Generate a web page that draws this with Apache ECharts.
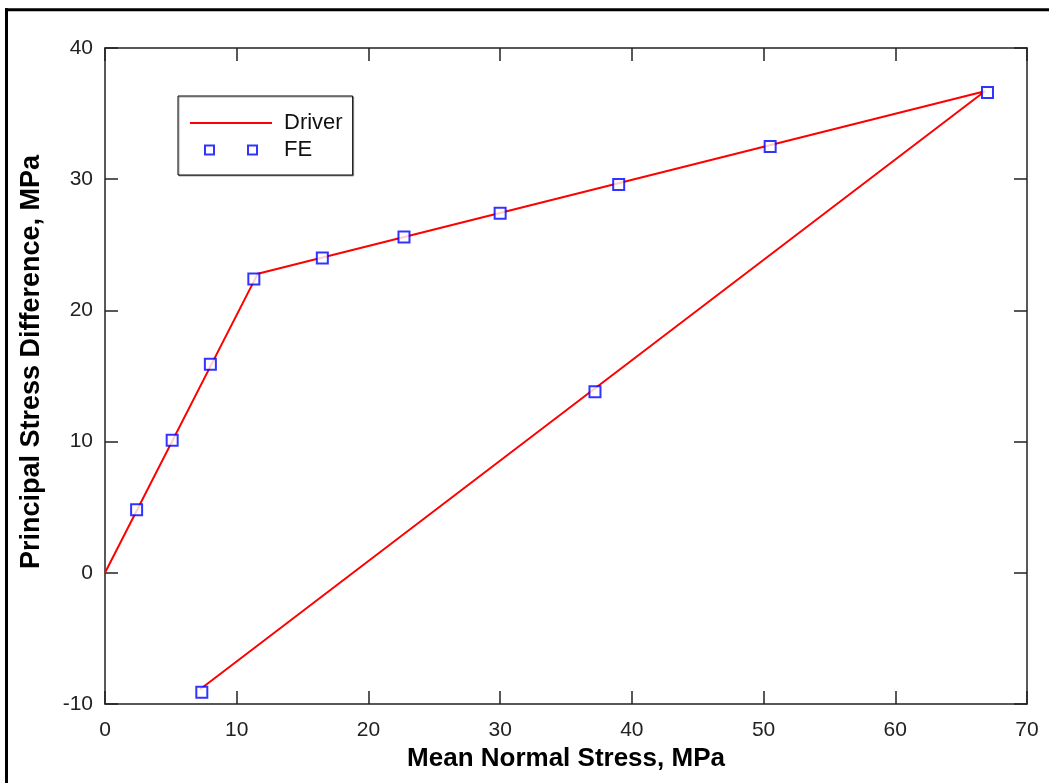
<!DOCTYPE html>
<html>
<head>
<meta charset="utf-8">
<script src="https://cdn.jsdelivr.net/npm/echarts@6/dist/echarts.min.js"></script>
<style>
html,body{margin:0;padding:0;background:#fff;}
#c{width:1049px;height:783px;}
</style>
</head>
<body>
<div id="c"></div>
<script>
// ---- data ----
const driverX = [0, 11.6, 66.8, 7.2];
const driverY = [0, 22.8, 36.7, -8.9];
const feX = [2.4, 5.1, 8.0, 11.3, 16.5, 22.7, 30.0, 39.0, 50.5, 67.0, 37.2, 7.35];
const feY = [4.8, 10.1, 15.9, 22.4, 24.0, 25.6, 27.4, 29.6, 32.5, 36.6, 13.8, -9.1];
const xTicks = [0, 10, 20, 30, 40, 50, 60, 70];
const yTicks = [-10, 0, 10, 20, 30, 40];
const seriesNames = ['Driver', 'FE'];
const xTitle = 'Mean Normal Stress, MPa';
const yTitle = 'Principal Stress Difference, MPa';

const FONT = '"Liberation Sans", Arial, sans-serif';
const AX = '#222';

const chart = echarts.init(document.getElementById('c'));

function tickCommon() {
  return {
    axisLine: { show: true, onZero: false, lineStyle: { color: AX, width: 1.5 } },
    axisTick: { show: true, inside: true, length: 13, lineStyle: { color: AX, width: 1.5 } },
    splitLine: { show: false }
  };
}

const driverIcon = 'path://M0,0L0.01,0M0,4.5H82V6.5H0ZM81.99,11L82,11';
const feIcon = 'path://M0,5.5L0.01,5.5M14,0H25V11H14ZM16,2V9H23V2ZM57,0H68V11H57ZM59,2V9H66V2ZM81.99,5.5L82,5.5';

chart.setOption({
  animation: false,
  backgroundColor: '#fff',
  grid: { left: 105, right: 22, top: 48, bottom: 79, containLabel: false },
  xAxis: [
    Object.assign({
      type: 'value', min: xTicks[0], max: xTicks[xTicks.length - 1], interval: 10,
      position: 'bottom',
      name: xTitle, nameLocation: 'middle', nameGap: 42,
      nameTextStyle: { fontFamily: FONT, fontSize: 26, fontWeight: 'bold', color: '#000' },
      axisLabel: { fontFamily: FONT, fontSize: 21, color: AX, margin: 16 }
    }, tickCommon()),
    Object.assign({
      type: 'value', min: xTicks[0], max: xTicks[xTicks.length - 1], interval: 10,
      position: 'top', axisLabel: { show: false }
    }, tickCommon())
  ],
  yAxis: [
    Object.assign({
      type: 'value', min: yTicks[0], max: yTicks[yTicks.length - 1], interval: 10,
      position: 'left',
      name: yTitle, nameLocation: 'middle', nameGap: 60,
      nameTextStyle: { fontFamily: FONT, fontSize: 27, fontWeight: 'bold', color: '#000', padding: [0, 0, 0, 28] },
      axisLabel: { fontFamily: FONT, fontSize: 21, color: AX, margin: 12 }
    }, tickCommon()),
    Object.assign({
      type: 'value', min: yTicks[0], max: yTicks[yTicks.length - 1], interval: 10,
      position: 'right', axisLabel: { show: false }
    }, tickCommon())
  ],
  legend: {
    orient: 'vertical',
    left: 178, top: 96,
    padding: [16, 10, 14, 12],
    itemWidth: 82, itemHeight: 11, itemGap: 5, itemTextGap: 12,
    backgroundColor: '#fff',
    borderColor: '#000', borderWidth: 1,
    shadowColor: 'rgba(0,0,0,0.35)', shadowBlur: 0, shadowOffsetX: 1, shadowOffsetY: 1,
    textStyle: { fontFamily: FONT, fontSize: 22, color: '#111', lineHeight: 20, padding: [0, 0, 0, 7] },
    data: [
      { name: seriesNames[0], icon: driverIcon, itemStyle: { color: '#ff0000', borderWidth: 0 } },
      { name: seriesNames[1], icon: feIcon, itemStyle: { color: '#0000ff', borderWidth: 0 } }
    ]
  },
  series: [
    {
      name: seriesNames[0], type: 'line', xAxisIndex: 0, yAxisIndex: 0,
      data: driverX.map((x, i) => [x, driverY[i]]),
      symbol: 'none', showSymbol: false,
      lineStyle: { color: '#ff0000', width: 2 },
      itemStyle: { color: '#ff0000' },
      z: 2
    },
    {
      name: seriesNames[1], type: 'scatter', xAxisIndex: 0, yAxisIndex: 0,
      data: feX.map((x, i) => [x, feY[i]]),
      symbol: 'emptyRect', symbolSize: 11,
      itemStyle: { color: '#0000ff', borderWidth: 2 },
      z: 3
    }
  ],
  graphic: [
    { type: 'line', shape: { x1: 6.5, y1: 8.3, x2: 6.5, y2: 783 }, style: { stroke: '#000', lineWidth: 3 }, silent: true },
    { type: 'line', shape: { x1: 5, y1: 9.8, x2: 1049, y2: 9.8 }, style: { stroke: '#000', lineWidth: 3 }, silent: true }
  ]
});
</script>
</body>
</html>
